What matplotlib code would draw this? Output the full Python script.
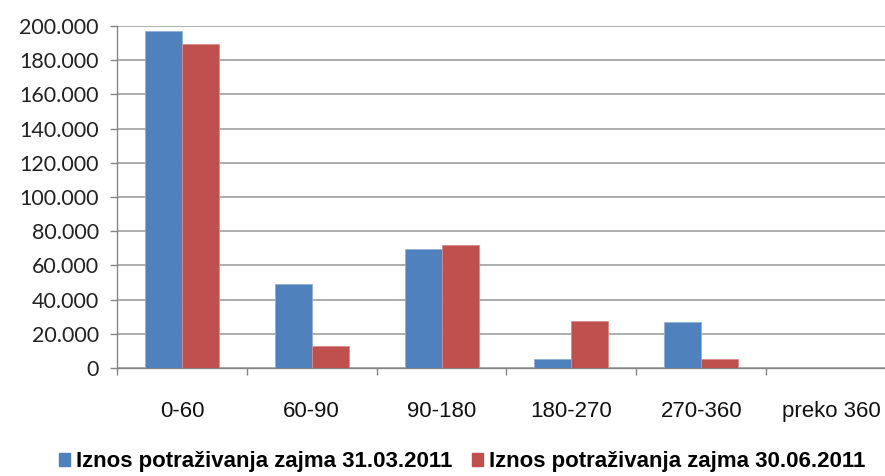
import matplotlib
matplotlib.use("Agg")
import matplotlib.pyplot as plt
from matplotlib import font_manager as fm
from matplotlib.patches import Patch
import numpy as np

categories = ["0-60", "60-90", "90-180", "180-270", "270-360", "preko 360"]
series_names = ["Iznos potraživanja zajma 31.03.2011", "Iznos potraživanja zajma 30.06.2011"]
values_q1 = [197000, 49000, 69400, 5300, 26700, 0]
values_q2 = [189300, 13000, 72100, 27500, 5300, 0]
y_ticks = [0, 20000, 40000, 60000, 80000, 100000, 120000, 140000, 160000, 180000, 200000]
y_tick_labels = ["0", "20.000", "40.000", "60.000", "80.000", "100.000", "120.000",
                 "140.000", "160.000", "180.000", "200.000"]

colors = ["#4F81BD", "#C0504D"]

names = {f.name for f in fm.fontManager.ttflist}
narrow = "Liberation Sans Narrow" if "Liberation Sans Narrow" in names else "Liberation Sans"
yfont = "Lato" if "Lato" in names else "Liberation Sans"

W, H = 885, 476
fig = plt.figure(figsize=(W / 100, H / 100), dpi=100)
left, right = 117, 896
bottom, top = 368, 26
ax = fig.add_axes([left / W, (H - bottom) / H, (right - left) / W, (bottom - top) / H])

x = np.arange(len(categories))
bw = 0.285
ax.bar(x - bw / 2, values_q1, bw, color=colors[0], edgecolor="#8fb0d8", linewidth=0.6, zorder=3)
ax.bar(x + bw / 2, values_q2, bw, color=colors[1], edgecolor="#d98a88", linewidth=0.6, zorder=3)

ax.set_xlim(-0.5, len(categories) - 0.5)
ax.set_ylim(0, 200000)
ax.set_yticks(y_ticks)
ax.set_yticklabels(y_tick_labels, fontfamily=yfont, fontsize=15.5, color="#222222")
ax.set_xticks(x)
ax.set_xticklabels(categories, fontfamily="Liberation Sans", fontsize=16, color="#111111")
ax.set_xticks(np.arange(len(categories) + 1) - 0.5, minor=True)
ax.tick_params(axis="x", which="major", length=0, pad=24)
ax.tick_params(axis="x", which="minor", length=5, color="#868686", width=1, direction="out")
ax.tick_params(axis="y", length=5, color="#868686", width=1, direction="out", pad=8)

ax.grid(axis="y", color="#a0a0a0", linewidth=1.2, zorder=0)
for s in ["top", "right"]:
    ax.spines[s].set_visible(False)
ax.spines["left"].set_color("#868686")
ax.spines["bottom"].set_color("#868686")
ax.spines["left"].set_linewidth(1)
ax.spines["bottom"].set_linewidth(1)

handles = [Patch(facecolor=c, edgecolor=c) for c in colors]
fig.legend(handles, series_names, loc="center", bbox_to_anchor=(462 / W, (H - 462) / H),
           ncol=2, frameon=False, prop={"family": narrow, "weight": "bold", "size": 16},
           handlelength=0.5, handleheight=0.5, handletextpad=0.25, columnspacing=0.9,
           borderpad=0)

fig.savefig("out.png", dpi=100)
